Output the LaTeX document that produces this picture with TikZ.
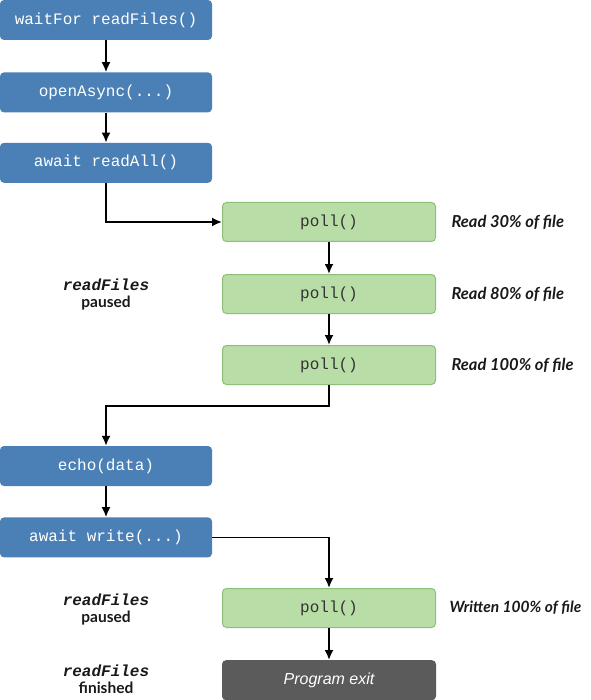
\documentclass[tikz,border=0pt]{standalone}
\usepackage{fontspec}
\setmainfont{Lato}
\setmonofont{Liberation Mono}
\newfontfamily\exitfont{Liberation Sans}
\usepackage{xcolor}
\usetikzlibrary{positioning,arrows.meta}
\definecolor{callblue}{HTML}{4A80B5}
\definecolor{pollgreen}{HTML}{B9DDA6}
\definecolor{polledge}{HTML}{8CC077}
\definecolor{exitgrey}{HTML}{5B5B5B}

\begin{document}
\begin{tikzpicture}[
  x=1pt, y=1pt,
  font=\ttfamily\fontsize{16}{18}\selectfont, node distance=31pt,
  callbox/.style={rounded corners=4pt, minimum width=212pt, minimum height=40pt, inner sep=0pt},
  main/.style={callbox, fill=callblue, text=white},
  pollbox/.style={callbox, minimum width=213pt, minimum height=39pt, fill=pollgreen, draw=polledge, line width=1pt, text=black!80},
  exitbox/.style={callbox, minimum width=214pt, fill=exitgrey, text=white, font=\exitfont\itshape\fontsize{16}{18}\selectfont},
  note/.style={font=\bfseries\itshape\fontsize{16.5}{18}\selectfont, anchor=west, text=black!90},
  state/.style={align=center, font=\bfseries\fontsize{15.5}{17}\selectfont, text=black!90},
  arr/.style={-{Latex[length=10pt, width=9pt]}, line width=1.8pt}
]
\useasboundingbox (0,0) rectangle (590,-700);

% calls made by readFiles
\node[main] (wait) at (106,-20) {waitFor readFiles()};
\node[main, below=32pt of wait] (open) {openAsync(...)};
\node[main, below=30pt of open] (readall) {await readAll()};

% event loop while reading
\node[pollbox] (p1) at (329,-222) {poll()};
\node[pollbox, below=32pt of p1] (p2) {poll()};
\node[pollbox, below=of p2] (p3) {poll()};
\node[note, right=12pt of p1] {Read 30\% of file};
\node[note, right=12pt of p2] {Read 80\% of file};
\node[note, right=12pt of p3] {Read 100\% of file};
\node[state] (pause1) at (106,-294) {{\ttfamily\itshape\fontsize{16}{17}\selectfont readFiles}\\paused};

% resumed
\node[main] (echo) at (106,-466) {echo(data)};
\node[main, below=of echo] (write) {await write(...)};

% event loop while writing
\node[pollbox] (p4) at (329,-608) {poll()};
\node[exitbox, below=32pt of p4] (exit) {Program exit};
\node[note, right=10pt of p4, font=\bfseries\itshape\fontsize{15.5}{18}\selectfont] {Written 100\% of file};
\node[state] (pause2) at (106,-609) {{\ttfamily\itshape\fontsize{16}{17}\selectfont readFiles}\\paused};
\node[state] (done) at (106,-679) {{\ttfamily\itshape\fontsize{16}{17}\selectfont readFiles}\\finished};

\draw[arr] (wait) -- (open);
\draw[arr] (open) -- (readall);
\draw[arr] (readall.south) |- (p1.west);
\draw[arr] (p1) -- (p2);
\draw[arr] (p2) -- (p3);
\draw[arr] (p3.south) -- ++(0,-21) -| (echo.north);
\draw[arr] (echo) -- (write);
\draw[arr] (write.east) -| (p4.north);
\draw[arr] (p4) -- (exit);
\end{tikzpicture}
\end{document}
